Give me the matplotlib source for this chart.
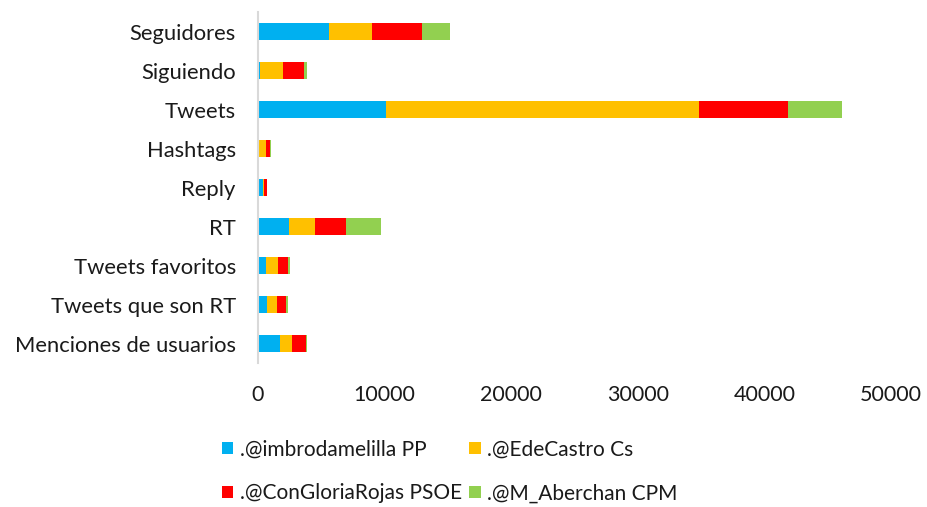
import numpy as np
from matplotlib import pyplot as plt

# Data
categories = ['Seguidores', 'Siguiendo', 'Tweets', 'Hashtags', 'Reply', 'RT',
              'Tweets favoritos', 'Tweets que son RT', 'Menciones de usuarios']
pp_values = [5580, 190, 10090, 30, 400, 2450, 630, 680, 1710]
cs_values = [3450, 1790, 24740, 630, 100, 2080, 980, 830, 970]
psoe_values = [3950, 1630, 7080, 260, 220, 2400, 740, 680, 1110]
cpm_values = [2190, 230, 4200, 140, 30, 2790, 180, 160, 50]

series_names = ['.@imbrodamelilla PP', '.@EdeCastro Cs',
                '.@ConGloriaRojas PSOE', '.@M_Aberchan CPM']
colors = ['#00B0F0', '#FFC000', '#FF0000', '#92D050']
x_ticks = [0, 10000, 20000, 30000, 40000, 50000]


def main():
    plt.rcParams['font.family'] = ['Lato', 'DejaVu Sans']
    text_col = '#1a1a1a'

    fig = plt.figure(figsize=(9.28, 5.07), dpi=100)
    ax = fig.add_axes([0.278, 0.284, 0.682, 0.692])

    y = np.arange(len(categories))
    left = np.zeros(len(categories))
    handles = []
    for name, vals, col in zip(series_names,
                               [pp_values, cs_values, psoe_values, cpm_values],
                               colors):
        bars = ax.barh(y, vals, left=left, height=0.45, color=col, label=name)
        handles.append(bars)
        left += np.array(vals)

    ax.set_ylim(len(categories) - 0.5, -0.5)
    ax.set_xlim(0, 50000)
    ax.set_yticks(y)
    ax.set_yticklabels(categories, fontsize=15.8, color=text_col)
    ax.set_xticks(x_ticks)
    ax.set_xticklabels([str(t) for t in x_ticks], fontsize=15.5, color=text_col)
    ax.tick_params(axis='both', length=0)
    ax.tick_params(axis='x', pad=16)
    ax.tick_params(axis='y', pad=16)

    for s in ['top', 'right', 'bottom']:
        ax.spines[s].set_visible(False)
    ax.spines['left'].set_color('#D9D9D9')
    ax.spines['left'].set_linewidth(1.5)

    # legend ordered so columns read PP/PSOE and Cs/CPM
    order = [0, 2, 1, 3]
    leg = fig.legend([handles[i] for i in order], [series_names[i] for i in order],
                     loc='lower left', bbox_to_anchor=(0.219, -0.03), ncol=2,
                     frameon=False, fontsize=15, handlelength=0.55, handleheight=0.55,
                     handletextpad=0.3, columnspacing=0.35, labelspacing=1.15)
    for t in leg.get_texts():
        t.set_color(text_col)

    fig.savefig('out.png', dpi=100)


if __name__ == '__main__':
    main()
